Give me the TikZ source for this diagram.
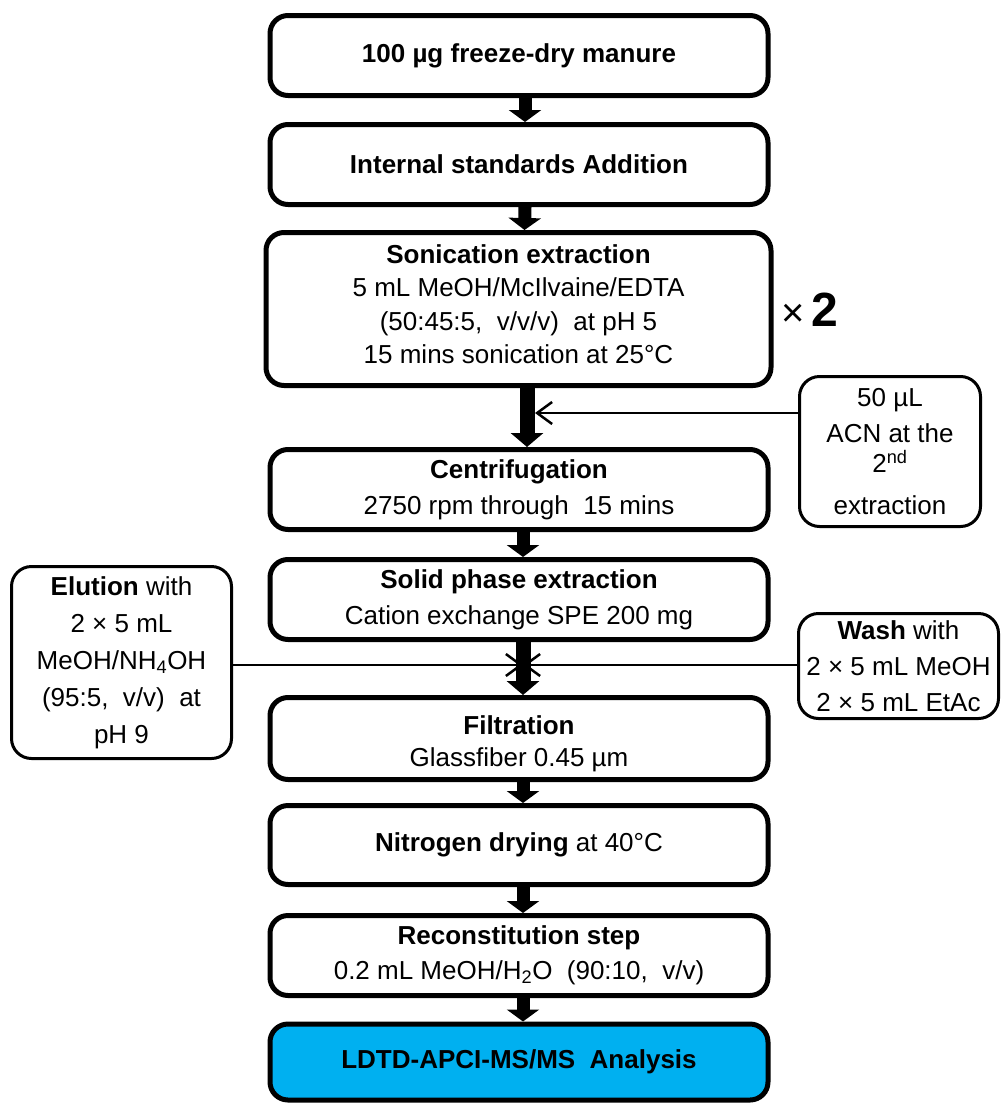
\documentclass[tikz,border=0pt]{standalone}
\usepackage{fontspec}
\setmainfont{Liberation Sans}
\usetikzlibrary{arrows.meta,calc}
\definecolor{boxcyan}{HTML}{00B0F0}
\begin{document}
\begin{tikzpicture}[x=1pt,y=-1pt,
  mainbox/.style={draw, line width=5pt, rounded corners=18pt, fill=white,
    inner sep=0pt, minimum width=498pt, minimum height=80pt, align=center,
    font=\fontsize{26}{36}\selectfont},
  sidebox/.style={draw, line width=3pt, rounded corners=20pt, fill=white,
    inner sep=0pt, align=center, font=\fontsize{26}{36}\selectfont},
  blockarrow/.style={line width=13pt, -{Triangle[width=32pt,length=12pt]}},
  bigarrow/.style={line width=15pt, -{Triangle[width=32pt,length=14pt]}},
  feed/.style={line width=2.5pt, -{Straight Barb[length=15pt,width=22pt]}}
]
\useasboundingbox (0,0) rectangle (1003,1103);

\node[mainbox] (b1) at (519,55.5) {\textbf{100 µg freeze-dry manure}};
\node[mainbox] (b2) at (519,164.5) {\textbf{Internal standards Addition}};
\node[mainbox, minimum width=505pt, minimum height=153pt,
  font=\fontsize{26}{33.5}\selectfont] (b3) at (518.5,309)
  {\textbf{Sonication extraction}\\
   5 mL MeOH/McIlvaine/EDTA\\
   (50:45:5,\ \ v/v/v)\ \ at pH 5\\
   15 mins sonication at 25°C\\[-34pt]\strut};
\node[mainbox] (b4) at (519,489.5)
  {\textbf{Centrifugation}\\2750 rpm through\ \ 15 mins};
\node[mainbox] (b5) at (519,599.5)
  {\textbf{Solid phase extraction}\\Cation exchange SPE 200 mg};
\node[mainbox, minimum height=82pt, font=\fontsize{26}{32}\selectfont] (b6) at (519,738.5)
  {\strut\\[-26pt]\textbf{Filtration}\\Glassfiber 0.45 µm};
\node[mainbox, minimum height=79pt] (b7) at (519,845)
  {\textbf{Nitrogen drying} at 40°C};
\node[mainbox, font=\fontsize{26}{35}\selectfont] (b8) at (519,955.5)
  {\textbf{Reconstitution step}\\0.2 mL MeOH/H\textsubscript{2}O\ \ (90:10,\ \ v/v)};
\node[mainbox, minimum height=76pt, fill=boxcyan] (b9) at (519,1062)
  {\textbf{LDTD-APCI-MS/MS\ \ Analysis}};

\node[sidebox, minimum width=181pt, minimum height=150pt] (acn) at (890,451.5)
  {50 µL\\ACN at the\\[-6pt]2\textsuperscript{nd}\\[6pt]extraction};
\node[sidebox, minimum width=220pt, minimum height=192pt,
  font=\fontsize{26}{37}\selectfont] (elu) at (121.5,662.5)
  {\textbf{Elution} with\\2 × 5 mL\\MeOH/NH\textsubscript{4}OH\\(95:5,\ \ v/v)\ \ at\\pH 9};
\node[sidebox, minimum width=200pt, minimum height=105pt] (wash) at (898.5,666)
  {\textbf{Wash} with\\2 × 5 mL MeOH\\2 × 5 mL EtAc};

\node (times) at (810,310)
  {{\fontsize{40}{40}\selectfont×}\hspace{6pt}{\fontsize{48}{50}\selectfont\bfseries 2}};

\draw[blockarrow] ([xshift=6pt]b1.south) -- ([xshift=6pt]b2.north);
\draw[blockarrow] ([xshift=6pt]b2.south) -- ([xshift=6pt]b3.north);
\draw[bigarrow] ([xshift=8.5pt]b3.south) -- ([xshift=8pt]b4.north);
\draw[blockarrow] ([xshift=4pt]b4.south) -- ([xshift=4pt]b5.north);
\draw[bigarrow] ([xshift=4pt]b5.south) -- ([xshift=4pt]b6.north);
\draw[blockarrow] ([xshift=4pt]b6.south) -- ([xshift=4pt]b7.north);
\draw[blockarrow] ([xshift=4pt]b7.south) -- ([xshift=4pt]b8.north);
\draw[blockarrow] ([xshift=4pt]b8.south) -- ([xshift=4pt]b9.north);

\coordinate (acnin) at (535,413);
\coordinate (eluin) at (523,665);
\draw[feed] (acn.west |- acnin) -- (acnin);
\draw[feed] (elu.east |- eluin) -- (eluin);
\draw[feed] (wash.west |- eluin) -- (eluin);
\end{tikzpicture}
\end{document}
